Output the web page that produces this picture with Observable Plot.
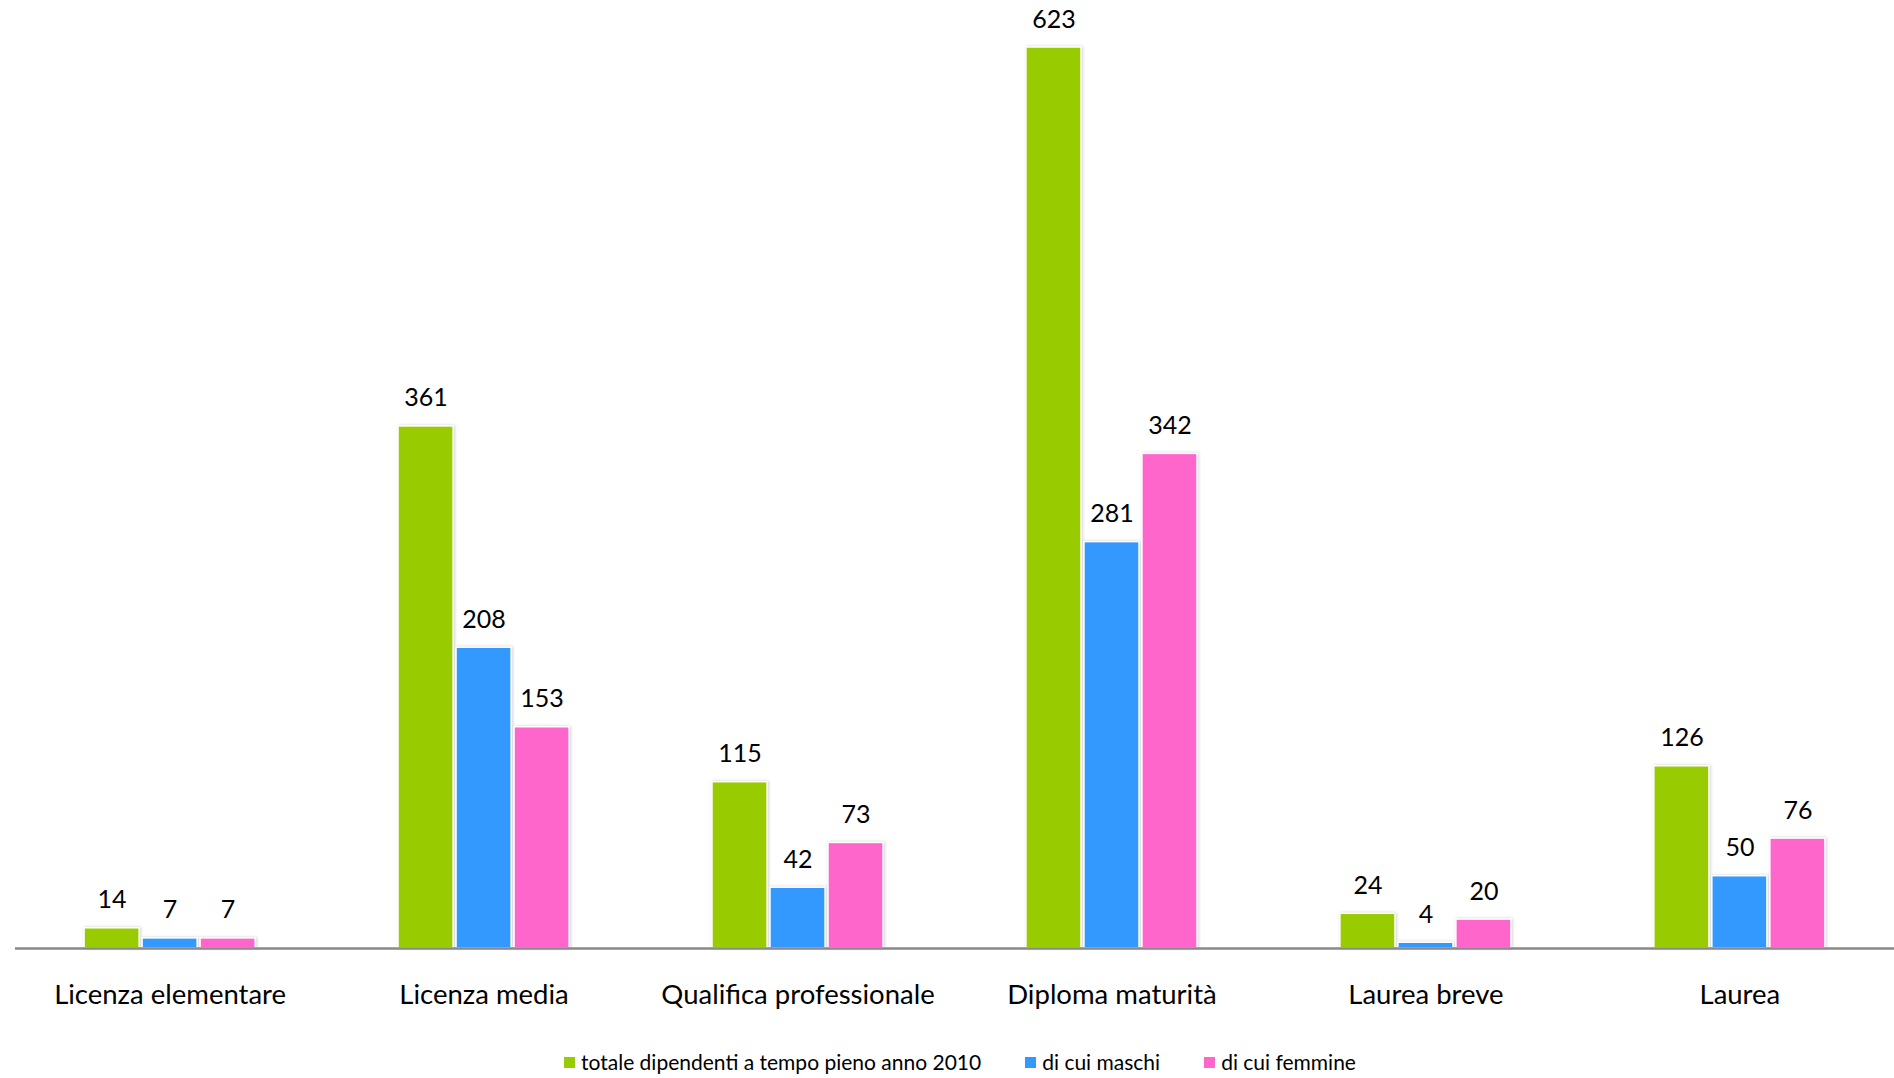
<!DOCTYPE html>
<html>
<head>
<meta charset="utf-8">
<script src="https://cdn.jsdelivr.net/npm/d3@7"></script>
<script src="https://cdn.jsdelivr.net/npm/@observablehq/plot@0.6"></script>
<style>
  html, body { margin: 0; padding: 0; background: #fff; }
  #chart svg g[aria-label="bar"] rect { filter: drop-shadow(1px 0px 1.5px rgba(0,0,0,0.18)); }
  #legend {
    display: flex; justify-content: center; gap: 44px;
    font-family: Lato, "Open Sans", sans-serif; font-size: 21px; color: #000;
    margin-top: 10px; padding-left: 26px; line-height: 24px;
  }
  #legend .item { display: flex; align-items: center; }
  #legend .sw { width: 11px; height: 11px; margin-right: 6px; display: inline-block; }
</style>
</head>
<body>
<div id="chart"></div>
<div id="legend"></div>
<script>
const categories = ["Licenza elementare", "Licenza media", "Qualifica professionale", "Diploma maturità", "Laurea breve", "Laurea"];
const seriesNames = ["totale dipendenti a tempo pieno anno 2010", "di cui maschi", "di cui femmine"];
const totale = [14, 361, 115, 623, 24, 126];
const maschi = [7, 208, 42, 281, 4, 50];
const femmine = [7, 153, 73, 342, 20, 76];
const colors = ["#99CC00", "#3399FF", "#FF66CC"];

const seriesValues = [totale, maschi, femmine];
const data = seriesValues.map(vals => categories.map((c, j) => ({category: c, value: vals[j]})));

const W = 1894, H = 1040;
const step = 58;

const marks = [];
data.forEach((d, i) => {
  marks.push(Plot.barY(d, {
    x: "category", y: "value", fill: colors[i],
    insetLeft: i * step, insetRight: (2 - i) * step,
    stroke: "#fff", strokeWidth: 1.5
  }));
  marks.push(Plot.text(d, {
    x: "category", y: "value", text: d => String(d.value),
    dx: (i - 1) * step, dy: -20, lineAnchor: "bottom",
    fontSize: 25, fill: "#000"
  }));
});
marks.push(Plot.ruleY([0], {stroke: "#898989", strokeWidth: 2.5}));

const chart = Plot.plot({
  width: W, height: H,
  marginTop: 47, marginBottom: H - 948, marginLeft: 15, marginRight: 0,
  style: {fontFamily: "Lato, 'Open Sans', sans-serif", fontSize: "27.5px", color: "#000", background: "#fff"},
  x: {domain: categories, paddingInner: 0.455, paddingOuter: 0.22, round: false, label: null, tickSize: 0, tickPadding: 35.5},
  y: {domain: [0, 623], axis: null},
  marks
});
document.getElementById("chart").appendChild(chart);

const legend = document.getElementById("legend");
seriesNames.forEach((n, i) => {
  const it = document.createElement("div");
  it.className = "item";
  const sw = document.createElement("span");
  sw.className = "sw"; sw.style.background = colors[i];
  it.appendChild(sw);
  it.appendChild(document.createTextNode(n));
  legend.appendChild(it);
});
</script>
</body>
</html>
